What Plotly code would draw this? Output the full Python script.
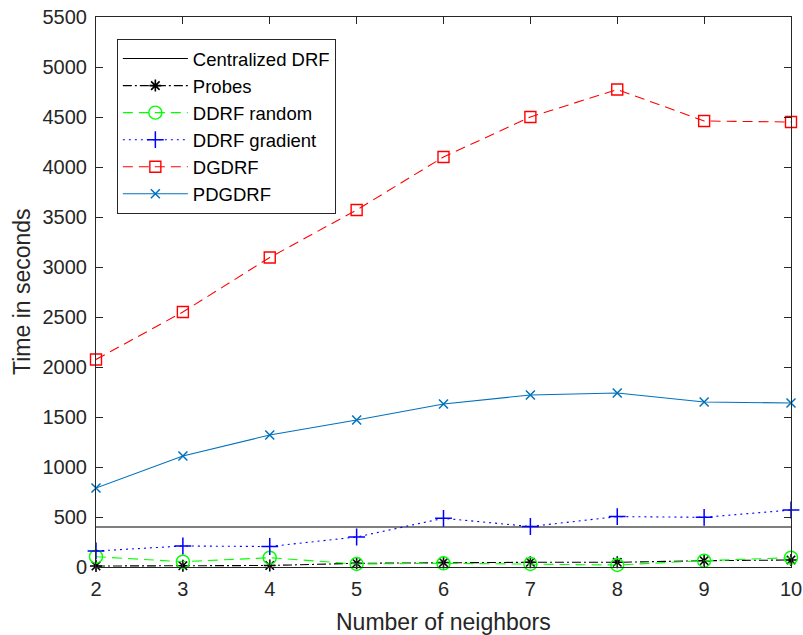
import plotly.graph_objects as go

x = [2, 3, 4, 5, 6, 7, 8, 9, 10]
centralized = [400] * 9
probes = [10, 12, 15, 37, 45, 47, 47, 63, 70]
ddrf_random = [103, 53, 93, 30, 37, 30, 20, 63, 93]
ddrf_gradient = [160, 210, 205, 300, 487, 405, 504, 497, 570]
dgdrf = [2075, 2550, 3095, 3570, 4100, 4500, 4775, 4460, 4450]
pdgdrf = [790, 1110, 1320, 1470, 1630, 1720, 1740, 1650, 1640]

xticks = [2, 3, 4, 5, 6, 7, 8, 9, 10]
yticks = list(range(0, 5501, 500))

fig = go.Figure()
fig.add_trace(go.Scatter(x=x, y=centralized, name="Centralized DRF", mode="lines",
                         line=dict(color="black", width=1.1), cliponaxis=False))
fig.add_trace(go.Scatter(x=x, y=probes, name="Probes", mode="lines+markers", cliponaxis=False,
                         line=dict(color="black", width=1.1, dash="9px,3px,2px,3px"),
                         marker=dict(symbol="asterisk-open", size=10, color="black",
                                     line=dict(color="black", width=1.6))))
fig.add_trace(go.Scatter(x=x, y=ddrf_random, name="DDRF random", mode="lines+markers", cliponaxis=False,
                         line=dict(color="#00FF00", width=1.1, dash="10px,6px"),
                         marker=dict(symbol="circle-open", size=13, color="#00FF00",
                                     line=dict(color="#00FF00", width=1.4))))
fig.add_trace(go.Scatter(x=x, y=ddrf_gradient, name="DDRF gradient", mode="lines+markers", cliponaxis=False,
                         line=dict(color="#0000FF", width=1.1, dash="2px,4px"),
                         marker=dict(symbol="cross-thin-open", size=12, color="#0000FF",
                                     line=dict(color="#0000FF", width=1.5))))
fig.add_trace(go.Scatter(x=x, y=dgdrf, name="DGDRF", mode="lines+markers", cliponaxis=False,
                         line=dict(color="#FF0000", width=1.1, dash="10px,6px"),
                         marker=dict(symbol="square-open", size=11, color="#FF0000",
                                     line=dict(color="#FF0000", width=1.4))))
fig.add_trace(go.Scatter(x=x, y=pdgdrf, name="PDGDRF", mode="lines+markers", cliponaxis=False,
                         line=dict(color="#0072BD", width=1.1),
                         marker=dict(symbol="x-thin-open", size=9, color="#0072BD",
                                     line=dict(color="#0072BD", width=1.5))))

axis_common = dict(showline=True, linecolor="#262626", linewidth=1, mirror="ticks",
                   ticks="inside", ticklen=7, tickcolor="#262626", showgrid=False,
                   zeroline=False, automargin=False, ticklabelstandoff=4,
                   ticklabeloverflow="allow",
                   tickfont=dict(size=20, color="#262626"))
fig.update_xaxes(range=[2, 10], tickvals=xticks, ticktext=[str(v) for v in xticks], **axis_common)
fig.update_yaxes(range=[0, 5500], tickvals=yticks, ticktext=[str(v) for v in yticks], **axis_common)

fig.update_layout(
    width=803, height=635,
    margin=dict(l=96, r=12, t=17, b=68, autoexpand=False),
    plot_bgcolor="white", paper_bgcolor="white",
    font=dict(family="Liberation Sans, Arial, sans-serif", color="#262626"),
    legend=dict(x=0.03, y=0.96, xanchor="left", yanchor="top",
                bgcolor="white", bordercolor="#262626", borderwidth=1,
                font=dict(size=18.5, color="black"), tracegroupgap=0, itemwidth=65),
    showlegend=True,
    annotations=[
        dict(text="Number of neighbors", xref="paper", yref="paper", x=0.5, y=0,
             yshift=-55, xanchor="center", yanchor="middle", showarrow=False,
             font=dict(size=23, color="#262626")),
        dict(text="Time in seconds", xref="paper", yref="paper", x=0, y=0.5,
             xshift=-74, xanchor="center", yanchor="middle", showarrow=False, textangle=-90,
             font=dict(size=23, color="#262626")),
    ],
)

fig.write_html("out.html", config={"displayModeBar": False},
               post_script=["document.body.style.margin='0';"])
